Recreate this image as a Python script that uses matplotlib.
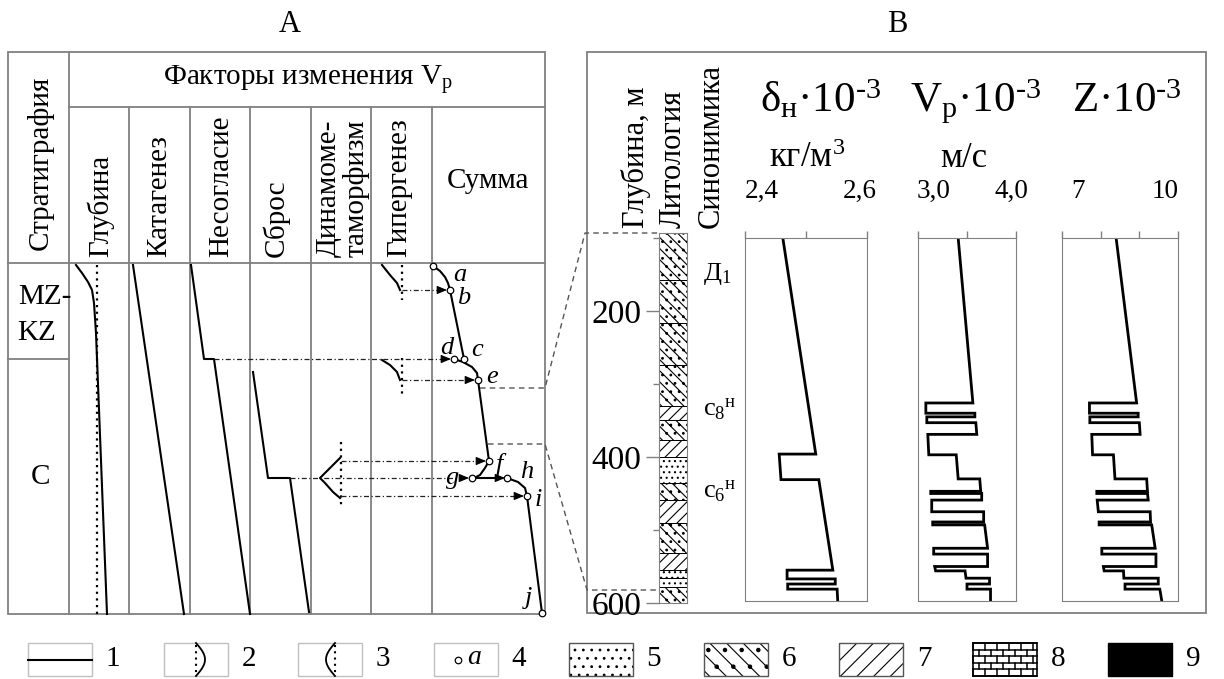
import numpy as np
import matplotlib.pyplot as plt
from matplotlib.patches import Rectangle

plt.rcParams['font.family'] = ['Liberation Serif', 'DejaVu Serif']
plt.rcParams['mathtext.fontset'] = 'custom'
plt.rcParams['mathtext.rm'] = 'Liberation Serif'
plt.rcParams['mathtext.it'] = 'Liberation Serif:italic'
plt.rcParams['hatch.linewidth'] = 0.8

# ---------------- panel B: logs against depth (m)
delta_depth = [100, 396, 396, 431, 431, 555, 555, 567, 567, 574, 574, 581, 581, 597]
delta_val = [2.462, 2.516, 2.456, 2.459, 2.521, 2.544, 2.469, 2.469, 2.548, 2.548,
             2.470, 2.470, 2.551, 2.552]

log_depth = [100, 326, 326, 340, 340, 345, 345, 353, 353, 369, 369, 397, 397, 430, 430,
             447, 447, 450, 450, 459, 459, 475, 475, 489, 489, 493, 493, 525, 525, 533,
             533, 550, 550, 556, 556, 566, 566, 574, 574, 581, 581, 597]
vp_val = [3.41, 3.56, 3.08, 3.08, 3.58, 3.58, 3.09, 3.09, 3.59, 3.60, 3.10, 3.11, 3.39,
          3.41, 3.63, 3.64, 3.13, 3.13, 3.65, 3.65, 3.14, 3.14, 3.67, 3.67, 3.15, 3.15,
          3.68, 3.71, 3.16, 3.16, 3.71, 3.71, 3.17, 3.18, 3.48, 3.49, 3.73, 3.73, 3.50,
          3.50, 3.74, 3.74]
z_val = [8.40, 8.93, 7.71, 7.71, 8.97, 8.97, 7.72, 7.72, 9.00, 9.02, 7.77, 7.79, 8.33,
         8.37, 9.19, 9.21, 7.90, 7.90, 9.21, 9.23, 7.91, 7.94, 9.28, 9.29, 7.96, 7.96,
         9.32, 9.41, 8.03, 8.03, 9.43, 9.43, 8.07, 8.09, 8.59, 8.60, 9.49, 9.49, 8.63,
         8.63, 9.53, 9.58]

litho_top = [93, 158, 216, 274, 330, 349, 377, 400, 435, 459, 490, 532, 555, 566, 578]
litho_bot = [158, 216, 274, 330, 349, 377, 400, 435, 459, 490, 532, 555, 566, 578, 600]
litho_type = [6, 6, 6, 6, 7, 6, 7, 5, 6, 7, 6, 7, 5, 5, 6]

HY = '\u2010'
syn_labels = ['Д$_\\mathregular{1}$', 'с$_\\mathregular{8}$$^\\mathregular{н}$',
              'с$_\\mathregular{6}$$^\\mathregular{н}$']
syn_depth = [149, 334, 447]

# ---------------- panel A: schematic curves (drawing units = pixels of the sheet)
col_edges = [69, 129, 190, 250, 311, 371, 432, 545]
factor_names = ['Глубина', 'Катагенез', 'Несогласие', 'Сброс',
                'Динамоме-\nтаморфизм', 'Гипергенез']
factor_x = [100, 159, 221, 276, 343, 399]

glub_x = [76, 82, 88, 92, 94, 96, 107]
glub_y = [265, 273, 282, 290, 303, 333, 614]
katag_x = [133, 184]
katag_y = [265, 614]
nesogl_x = [191, 204, 214, 250]
nesogl_y = [265, 359, 359, 614]
sbros_x = [253, 268, 290, 309]
sbros_y = [372, 478, 478, 612]

sum_ab_x = [433, 440, 445, 448, 450]
sum_ab_y = [266, 271, 277, 283, 290]
sum_bc_x = [450, 464]
sum_bc_y = [290, 359]
sum_de_x = [454, 463, 472, 477, 478]
sum_de_y = [359, 362, 367, 373, 380]
sum_ef_x = [478, 489]
sum_ef_y = [380, 461]
sum_fg_x = [489, 485, 480, 474]
sum_fg_y = [461, 468, 475, 478]
sum_hi_x = [507, 518, 525, 527]
sum_hi_y = [478, 482, 488, 496]
sum_ij_x = [527, 542]
sum_ij_y = [496, 613]

pt_names = ['a', 'b', 'c', 'd', 'e', 'f', 'g', 'h', 'i', 'j']
pt_x = [433, 450, 464, 454, 478, 489, 472, 507, 527, 542]
pt_y = [266, 290, 359, 359, 380, 461, 478, 478, 496, 613]
lab_x = [460, 464, 477, 447, 492, 499, 453, 527, 538, 529]
lab_y = [275, 298, 350, 348, 377, 464, 478, 472, 500, 598]

hyp1_x = [382, 390, 397, 400]
hyp1_y = [265, 275, 283, 290]
hyp2_x = [382, 390, 397, 400]
hyp2_y = [360, 365, 372, 380]
dyn_x = [340, 333, 325, 320, 325, 333, 340]
dyn_y = [458, 465, 473, 478, 483, 492, 498]

W, H = 1224, 679
fig = plt.figure(figsize=(W / 100, H / 100), dpi=100)
ax = fig.add_axes([0, 0, 1, 1])
ax.set_xlim(0, W)
ax.set_ylim(H, 0)
ax.axis('off')

GRID = '#808080'
FS = 21


def px_axes(x0, y0, x1, y1):
    return fig.add_axes([x0 / W, 1 - y1 / H, (x1 - x0) / W, (y1 - y0) / H])


def depth_px(d):
    return 311 + (d - 200) * 0.73


def arrow(x0, y0, x1, y1, ls=(0, (4, 2, 1, 2))):
    ax.plot([x0, x1 - 5], [y0, y1], color='#222222', lw=0.9, ls=ls)
    ax.annotate('', xy=(x1, y1), xytext=(x1 - 8, y1),
                arrowprops=dict(arrowstyle='-|>,head_length=0.6,head_width=0.25',
                                color='k', lw=0.8, shrinkA=0, shrinkB=0, mutation_scale=10))


# ---------------- titles
ax.text(290, 24, 'A', ha='center', va='center', fontsize=22)
ax.text(897, 24, 'B', ha='center', va='center', fontsize=22)

# ---------------- table A
ax.add_patch(Rectangle((8, 52), 537, 562, fill=False, ec=GRID, lw=1.3))
ax.plot([69, 69], [52, 614], color=GRID, lw=1.3)
ax.plot([69, 545], [107, 107], color=GRID, lw=1.3)
ax.plot([8, 545], [263, 263], color=GRID, lw=1.3)
ax.plot([8, 69], [359, 359], color=GRID, lw=1.3)
for x in col_edges[1:-1]:
    ax.plot([x, x], [107, 614], color=GRID, lw=1.3)

ax.text(40, 163, 'Стратиграфия', rotation=90, ha='center', va='center', fontsize=FS)
ax.text(308, 80, 'Факторы изменения V$_\\mathregular{p}$', ha='center', va='center', fontsize=FS)
for name, x in zip(factor_names, factor_x):
    ax.text(x, 257, name, rotation=90, ha='center', va='bottom', fontsize=FS,
            multialignment='left', linespacing=1.05)
ax.text(488, 181, 'Сумма', ha='center', va='center', fontsize=FS)
ax.text(45, 297, 'MZ-', ha='center', va='center', fontsize=FS)
ax.text(37, 333, 'KZ', ha='center', va='center', fontsize=FS)
ax.text(41, 477, 'C', ha='center', va='center', fontsize=FS)

# curves of factors
ax.plot([97, 97], [265, 614], color='k', lw=1.6, ls=(0, (1, 2)))
for xs, ys in [(glub_x, glub_y), (katag_x, katag_y), (nesogl_x, nesogl_y), (sbros_x, sbros_y),
               (sum_ab_x, sum_ab_y), (sum_bc_x, sum_bc_y), (sum_de_x, sum_de_y),
               (sum_ef_x, sum_ef_y), (sum_fg_x, sum_fg_y), (sum_hi_x, sum_hi_y),
               (sum_ij_x, sum_ij_y), (hyp1_x, hyp1_y), (hyp2_x, hyp2_y), (dyn_x, dyn_y)]:
    ax.plot(xs, ys, color='k', lw=1.5, solid_joinstyle='round')

ax.plot([402, 402], [265, 300], color='k', lw=1.6, ls=(0, (1, 2)))
ax.plot([402, 402], [358, 395], color='k', lw=1.6, ls=(0, (1, 2)))
ax.plot([341, 341], [442, 508], color='k', lw=1.6, ls=(0, (1, 2)))

# arrows transferring effects to the sum curve
arrow(402, 290, 447, 290)
arrow(214, 359, 451, 359)
arrow(402, 380, 475, 380)
arrow(341, 461, 486, 461)
arrow(290, 478, 469, 478)
arrow(341, 496, 524, 496)
ax.plot([474, 502], [478, 478], color='k', lw=1.5)
ax.annotate('', xy=(505, 478), xytext=(495, 478),
            arrowprops=dict(arrowstyle='-|>,head_length=0.6,head_width=0.25',
                            color='k', lw=0.8, shrinkA=0, shrinkB=0, mutation_scale=10))

ax.scatter(pt_x, pt_y, s=22, facecolor='white', edgecolor='k', linewidth=0.9, zorder=5)
for n, x, y in zip(pt_names, lab_x, lab_y):
    ax.text(x, y, n, ha='center', va='center', fontsize=19, style='italic')

# dashed links from A to the lithology column of B
ax.plot([480, 545, 585, 659], [388, 388, 233, 233], color='#555555', lw=1, ls=(0, (4, 3)))
ax.plot([488, 545, 587, 659], [444, 444, 590, 590], color='#555555', lw=1, ls=(0, (4, 3)))

# ---------------- panel B frame and headers
ax.add_patch(Rectangle((587, 52), 619, 561, fill=False, ec=GRID, lw=1.3))
ax.text(636, 228, 'Глубина, м', rotation=90, ha='center', va='bottom', fontsize=22)
ax.text(673, 228, 'Литология', rotation=90, ha='center', va='bottom', fontsize=22)
ax.text(711, 228, 'Синонимика', rotation=90, ha='center', va='bottom', fontsize=22)

sup3 = '$^\\mathregular{' + HY + '3}$'
ax.text(821, 112, 'δ$_\\mathregular{н}$·10' + sup3, ha='center', va='baseline', fontsize=31)
ax.text(975, 112, 'V$_\\mathregular{p}$·10' + sup3, ha='center', va='baseline', fontsize=31)
ax.text(1127, 112, 'Z·10' + sup3, ha='center', va='baseline', fontsize=31)
ax.text(807, 167, 'кг/м$^\\mathregular{3}$', ha='center', va='baseline', fontsize=25)
ax.text(964, 167, 'м/с', ha='center', va='baseline', fontsize=25)

tick_text = [('2,4', 745, 'left'), ('2,6', 877, 'right'), ('3,0', 917, 'left'),
             ('4,0', 1028, 'right'), ('7', 1071, 'left'), ('10', 1179, 'right')]
for t, x, al in tick_text:
    ax.text(x, 198, t, ha=al, va='baseline', fontsize=19.5)

for lab, d in zip(syn_labels, syn_depth):
    ax.text(703, depth_px(d), lab, ha='left', va='center', fontsize=19)

# lithology column
lax = px_axes(659, depth_px(93), 687, depth_px(600))
lax.set_xlim(0, 1)
lax.set_ylim(600, 93)
col_hatches = {5: '...', 6: '\\\\\\..', 7: '///'}
for top, bot, kind in zip(litho_top, litho_bot, litho_type):
    lax.add_patch(Rectangle((0, top), 1, bot - top, fill=False, hatch=col_hatches[kind],
                            ec='k', lw=0.7))
lax.set_xticks([])
lax.set_yticks([200, 400, 600])
lax.set_yticks([100, 300, 500], minor=True)
lax.tick_params(axis='y', which='major', length=9.5, width=1, color=GRID,
                labelsize=24, pad=3)
lax.tick_params(axis='y', which='minor', length=4.5, width=1, color=GRID)
for s in lax.spines.values():
    s.set_color(GRID)
lax.set_facecolor('none')

# log tracks
tracks = [(745, 867, (2.4, 2.6), [2.4, 2.5, 2.6], delta_depth, delta_val),
          (918, 1016, (3.0, 4.0), [3.0, 3.5, 4.0], log_depth, vp_val),
          (1062, 1178, (7, 10), [7, 8, 9, 10], log_depth, z_val)]
for x0, x1, lim, ticks, dep, val in tracks:
    tax = px_axes(x0, depth_px(100), x1, depth_px(597))
    tax.plot(val, dep, color='k', lw=2, solid_joinstyle='miter')
    tax.set_xlim(*lim)
    tax.set_ylim(597, 100)
    tax.set_yticks([])
    tax.xaxis.tick_top()
    tax.set_xticks(ticks)
    tax.set_xticklabels([])
    tax.tick_params(axis='x', length=5, width=1, color=GRID)
    for s in tax.spines.values():
        s.set_color(GRID)
    tax.set_facecolor('none')

# ---------------- legend
hatches = {5: '..', 6: '\\\\.', 7: '//'}
leg_x = [28, 164, 298, 434, 569, 704, 839, 973, 1108]
bw, by, bh = 64, 643, 33
for i, x in enumerate(leg_x):
    kind = i + 1
    cx, mid = x + bw / 2, by + bh / 2
    if kind <= 4:
        ax.add_patch(Rectangle((x, by), bw, bh, fill=False, ec='#c0c0c0', lw=1))
    if kind == 1:
        ax.plot([x, x + bw], [mid, mid], color='k', lw=1.5)
    elif kind in (2, 3):
        t = np.linspace(0, 1, 30)
        sgn = 1 if kind == 2 else -1
        lx = cx if kind == 2 else cx + 5
        ax.plot([lx, lx], [by + 2, by + bh - 2], color='k', lw=1.5, ls=(0, (1, 2)))
        ax.plot(lx + sgn * 9 * np.sin(np.pi * t), by + t * bh, color='k', lw=1.3)
    elif kind == 4:
        ax.scatter([x + 0.37 * bw], [mid], s=22, facecolor='white', edgecolor='k', linewidth=0.9)
        ax.text(x + 0.63 * bw, mid - 2, 'a', ha='center', va='center', fontsize=20, style='italic')
    elif kind in (5, 6, 7):
        ax.add_patch(Rectangle((x, by), bw, bh, fill=False, hatch=hatches[kind], ec='k', lw=0))
        ax.add_patch(Rectangle((x, by), bw, bh, fill=False, ec='#555555', lw=1))
    elif kind == 8:
        rows = 5
        rh = bh / rows
        for r in range(rows + 1):
            ax.plot([x, x + bw], [by + r * rh, by + r * rh], color='k', lw=1.1)
        for r in range(rows):
            off = 0 if r % 2 == 0 else 6
            for vx in np.arange(x + off, x + bw, 12):
                ax.plot([vx, vx], [by + r * rh, by + (r + 1) * rh], color='k', lw=1.1)
        ax.add_patch(Rectangle((x, by), bw, bh, fill=False, ec='k', lw=1.2))
    elif kind == 9:
        ax.add_patch(Rectangle((x, by), bw, bh, fc='k', ec='k', lw=1))
    ax.text(x + bw + 21, mid, str(kind), ha='center', va='center', fontsize=FS)

fig.savefig('out.png', dpi=100)
